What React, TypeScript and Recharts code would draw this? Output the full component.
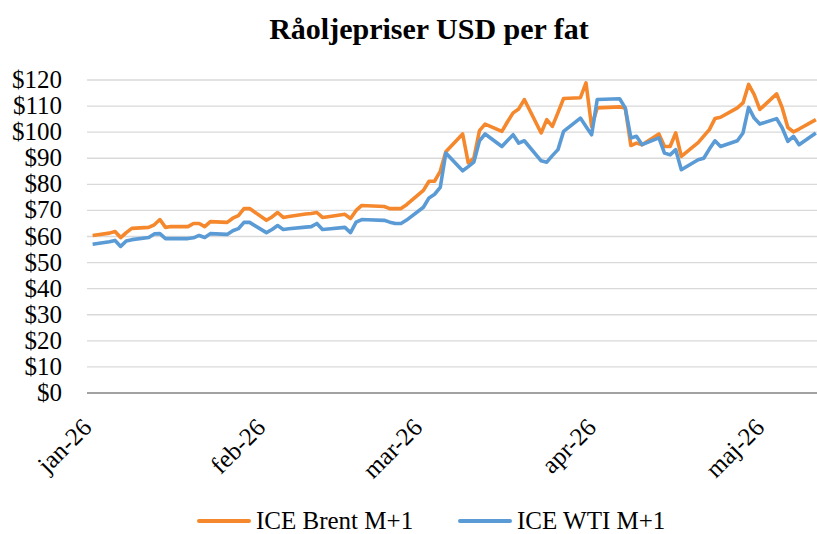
import { CartesianGrid, Line, LineChart, XAxis, YAxis } from "recharts";

// ICE front-month settlement prices, USD/bbl
const dates = [
  "2026-01-02", "2026-01-05", "2026-01-06", "2026-01-07", "2026-01-08", "2026-01-09",
  "2026-01-12", "2026-01-13", "2026-01-14", "2026-01-15", "2026-01-16",
  "2026-01-19", "2026-01-20", "2026-01-21", "2026-01-22", "2026-01-23",
  "2026-01-26", "2026-01-27", "2026-01-28", "2026-01-29", "2026-01-30",
  "2026-02-02", "2026-02-03", "2026-02-04", "2026-02-05", "2026-02-06",
  "2026-02-09", "2026-02-10", "2026-02-11", "2026-02-12", "2026-02-13",
  "2026-02-16", "2026-02-17", "2026-02-18", "2026-02-19", "2026-02-20",
  "2026-02-23", "2026-02-24", "2026-02-25", "2026-02-26", "2026-02-27",
  "2026-03-02", "2026-03-03", "2026-03-04", "2026-03-05", "2026-03-06",
  "2026-03-09", "2026-03-10", "2026-03-11", "2026-03-12", "2026-03-13",
  "2026-03-16", "2026-03-17", "2026-03-18", "2026-03-19", "2026-03-20",
  "2026-03-23", "2026-03-24", "2026-03-25", "2026-03-26", "2026-03-27",
  "2026-03-30", "2026-03-31", "2026-04-01", "2026-04-02",
  "2026-04-06", "2026-04-07", "2026-04-08", "2026-04-09", "2026-04-10",
  "2026-04-13", "2026-04-14", "2026-04-15", "2026-04-16", "2026-04-17",
  "2026-04-20", "2026-04-21", "2026-04-22", "2026-04-23", "2026-04-24",
  "2026-04-27", "2026-04-28", "2026-04-29", "2026-04-30", "2026-05-01",
  "2026-05-04", "2026-05-05", "2026-05-06", "2026-05-07", "2026-05-08",
  "2026-05-11",
];

const brent = [
  60.4, 61.3, 61.9, 59.6, 61.5, 63.1,
  63.5, 64.5, 66.5, 63.5, 63.8,
  63.8, 65.0, 65.0, 63.8, 65.7,
  65.4, 67.0, 68.0, 70.7, 70.7,
  66.2, 67.5, 69.2, 67.3, 67.7,
  68.6, 68.8, 69.2, 67.3, 67.6,
  68.5, 66.9, 70.0, 71.9, 71.8,
  71.5, 70.7, 70.7, 70.7, 72.2,
  77.7, 81.2, 81.2, 85.0, 92.5,
  99.3, 88.2, 90.1, 100.6, 103.1,
  100.3, 104.0, 107.4, 108.9, 112.5,
  99.7, 104.8, 102.2, 107.5, 112.9,
  113.2, 118.9, 102.2, 109.3,
  109.7, 109.3, 94.9, 95.8, 95.2,
  99.3, 94.5, 94.5, 99.7, 90.7,
  96.0, 98.5, 101.0, 105.2, 105.7,
  109.3, 111.2, 118.3, 114.4, 108.7,
  114.7, 109.3, 101.8, 100.1, 101.2,
  104.8,
];

const wti = [
  57.0, 58.0, 58.5, 56.2, 58.3, 58.8,
  59.6, 61.0, 61.1, 59.2, 59.2,
  59.2, 59.5, 60.4, 59.6, 61.1,
  60.8, 62.2, 63.0, 65.4, 65.4,
  61.5, 62.7, 64.2, 62.7, 63.0,
  63.6, 63.8, 65.0, 62.7, 62.9,
  63.5, 61.5, 65.5, 66.5, 66.4,
  66.2, 65.5, 65.0, 65.0, 66.3,
  71.2, 74.8, 76.2, 78.8, 92.0,
  85.2, 86.8, 88.5, 96.7, 99.3,
  94.5, 96.8, 99.0, 95.8, 96.7,
  89.0, 88.5, 91.0, 93.3, 100.3,
  105.4, 102.2, 99.0, 112.5,
  112.8, 109.3, 97.8, 98.4, 95.2,
  97.8, 92.0, 91.3, 93.3, 85.6,
  89.4, 90.0, 93.5, 96.7, 94.5,
  96.7, 99.7, 109.5, 105.4, 103.1,
  105.2, 101.6, 96.5, 98.4, 95.2,
  99.7,
];

const monthTicks = ["2026-01-01", "2026-02-01", "2026-03-01", "2026-04-01", "2026-05-01"];
const monthLabels = ["jan-26", "feb-26", "mar-26", "apr-26", "maj-26"];
const priceTicks = [0, 10, 20, 30, 40, 50, 60, 70, 80, 90, 100, 110, 120];

const FONT = '"Liberation Serif", "Times New Roman", serif';
const BRENT_COLOR = "#F5882C";
const WTI_COLOR = "#5B9BD5";

// days since 1 Jan 2026, so the x axis behaves like Excel's date axis
const toDay = (s: string) => {
  const [y, m, d] = s.split("-").map(Number);
  return (Date.UTC(y, m - 1, d) - Date.UTC(2026, 0, 1)) / 86400000;
};

const rows = dates.map((d, i) => ({ day: toDay(d), brent: brent[i], wti: wti[i] }));
const tickDays = monthTicks.map(toDay);

function YTick(props: any) {
  const { x, y, payload } = props;
  return (
    <text x={x - 25} y={y} dy={8} textAnchor="end" fontFamily={FONT} fontSize={25} fill="#000">
      {`$${payload.value}`}
    </text>
  );
}

function XTick(props: any) {
  const { x, y, payload } = props;
  const idx = tickDays.indexOf(payload.value);
  return (
    <g transform={`translate(${x + 6},${y + 36})`}>
      <text textAnchor="end" transform="rotate(-45)" fontFamily={FONT} fontSize={25} fill="#000">
        {monthLabels[idx]}
      </text>
    </g>
  );
}

function LegendItem({ color, label, left }: { color: string; label: string; left: number }) {
  return (
    <div style={{ position: "absolute", left, top: 508, height: 25, display: "flex", alignItems: "center" }}>
      <div style={{ width: 54, height: 4, background: color, borderRadius: 2, marginRight: 5 }} />
      <span style={{ fontFamily: FONT, fontSize: 25, lineHeight: "25px", color: "#000" }}>{label}</span>
    </div>
  );
}

export default function App() {
  return (
    <div style={{ position: "absolute", left: 0, top: 0, width: 817, height: 534, background: "#fff", overflow: "hidden" }}>
      <div
        style={{
          position: "absolute",
          left: 429,
          top: 14,
          transform: "translateX(-50%)",
          whiteSpace: "nowrap",
          fontFamily: FONT,
          fontWeight: "bold",
          fontSize: 30,
          lineHeight: "30px",
          color: "#000",
        }}
      >
        Råoljepriser USD per fat
      </div>
      <LineChart
        width={817}
        height={534}
        data={rows}
        margin={{ top: 80, right: 0, bottom: 41, left: 0 }}
      >
        <CartesianGrid vertical={false} stroke="#d9d9d9" strokeWidth={1.3} />
        <XAxis
          type="number"
          dataKey="day"
          domain={[0, 130.2]}
          ticks={tickDays}
          tick={<XTick />}
          tickLine={false}
          tickSize={0}
          tickMargin={0}
          height={100}
          axisLine={{ stroke: "#8c8c8c", strokeWidth: 1.3 }}
          interval={0}
        />
        <YAxis
          type="number"
          domain={[0, 120]}
          ticks={priceTicks}
          tick={<YTick />}
          tickLine={false}
          tickSize={0}
          tickMargin={0}
          axisLine={false}
          width={87}
          interval={0}
        />
        <Line
          type="linear"
          dataKey="brent"
          name="ICE Brent M+1"
          stroke={BRENT_COLOR}
          strokeWidth={3.6}
          strokeLinejoin="round"
          dot={false}
          isAnimationActive={false}
        />
        <Line
          type="linear"
          dataKey="wti"
          name="ICE WTI M+1"
          stroke={WTI_COLOR}
          strokeWidth={3.6}
          strokeLinejoin="round"
          dot={false}
          isAnimationActive={false}
        />
      </LineChart>
      <LegendItem color={BRENT_COLOR} label="ICE Brent M+1" left={197} />
      <LegendItem color={WTI_COLOR} label="ICE WTI M+1" left={458} />
    </div>
  );
}
